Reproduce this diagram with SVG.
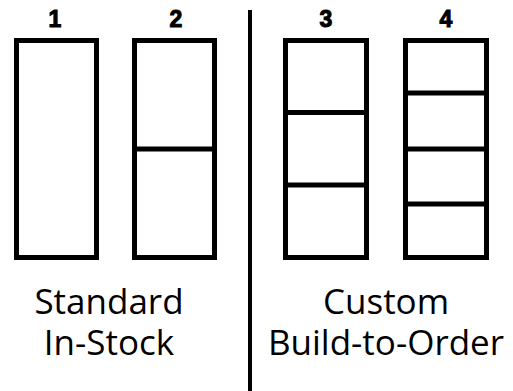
<svg xmlns="http://www.w3.org/2000/svg" width="513" height="391" viewBox="0 0 513 391">
<style>
.box{fill:#fff;stroke:#000;stroke-width:5}
.div{stroke:#000;stroke-width:5}
.num{font-family:"Liberation Sans",Arial,sans-serif;font-weight:bold;font-size:23px;text-anchor:middle;fill:#000;stroke:#000;stroke-width:1}
.lbl{font-family:"Open Sans","Noto Sans",sans-serif;font-size:35px;text-anchor:middle;fill:#000}
</style>
<rect width="513" height="391" fill="#fff"/>
<g id="sep"><line x1="250" y1="10" x2="250" y2="391" stroke="#000" stroke-width="4"/></g>
<g id="col1">
<text class="num" x="55" y="27">1</text>
<rect class="box" x="16.5" y="40.5" width="80" height="217"/>
</g>
<g id="col2">
<text class="num" x="176" y="27">2</text>
<rect class="box" x="134.5" y="40.5" width="80" height="217"/>
<line class="div" x1="134.5" y1="149" x2="214.5" y2="149"/>
</g>
<g id="col3">
<text class="num" x="326" y="27">3</text>
<rect class="box" x="285.5" y="40.5" width="81" height="217"/>
<line class="div" x1="285.5" y1="112.5" x2="366.5" y2="112.5"/>
<line class="div" x1="285.5" y1="185" x2="366.5" y2="185"/>
</g>
<g id="col4">
<text class="num" x="446" y="27">4</text>
<rect class="box" x="405.5" y="40.5" width="81" height="217"/>
<line class="div" x1="405.5" y1="93" x2="486.5" y2="93"/>
<line class="div" x1="405.5" y1="149" x2="486.5" y2="149"/>
<line class="div" x1="405.5" y1="204" x2="486.5" y2="204"/>
</g>
<g id="labels">
<text class="lbl" x="109" y="314">Standard</text>
<text class="lbl" x="109" y="355">In-Stock</text>
<text class="lbl" x="386" y="314">Custom</text>
<text class="lbl" x="386" y="355">Build-to-Order</text>
</g>
</svg>
